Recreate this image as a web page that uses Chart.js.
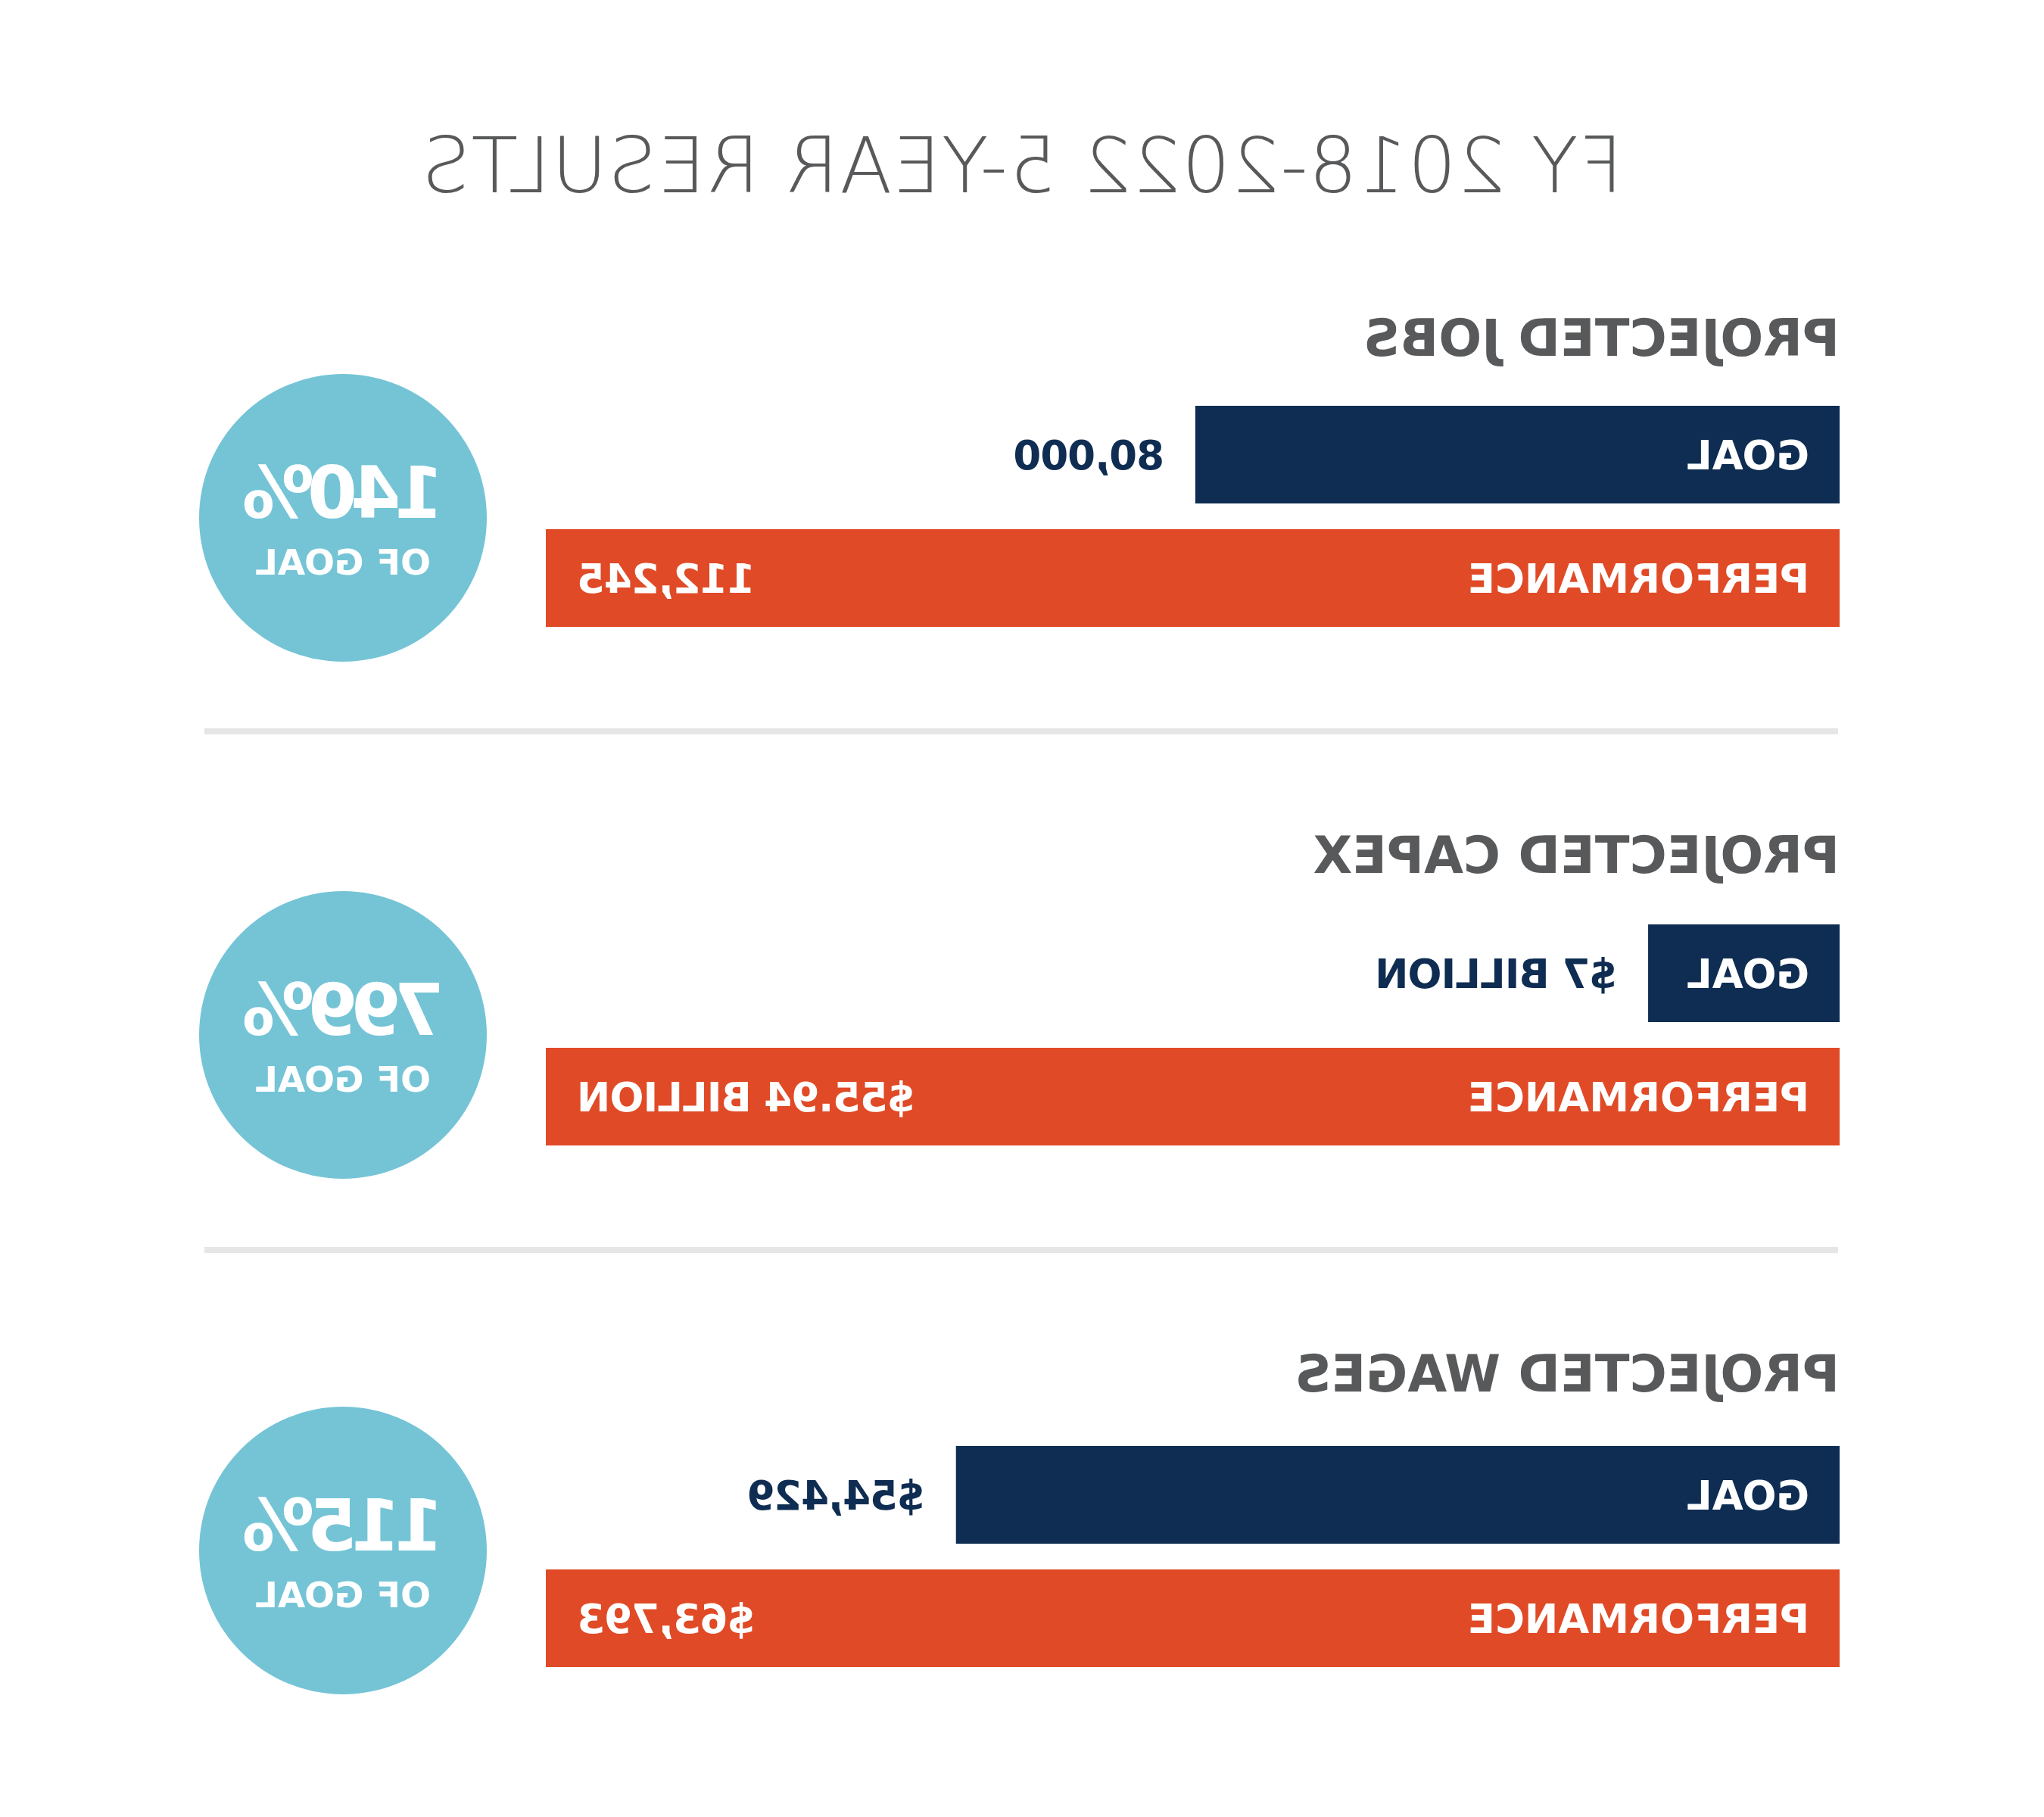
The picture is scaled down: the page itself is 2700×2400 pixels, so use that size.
<!DOCTYPE html>
<html>
<head>
<meta charset="utf-8">
<script src="https://cdn.jsdelivr.net/npm/chart.js@4.4.1/dist/chart.umd.min.js"></script>
<style>
  html, body { margin: 0; padding: 0; background: #ffffff; }
  #page { position: relative; width: 2700px; height: 2400px; overflow: hidden; background: #ffffff; transform: scaleX(-1); transform-origin: 1350px 0; }
  .title { position: absolute; left: 0; width: 2700px; text-align: center; font-family: "DejaVu Sans", sans-serif; font-weight: 200; font-size: 101px; letter-spacing: 1px; line-height: 1; color: #58595b; white-space: nowrap; }
  .head { position: absolute; left: 270px; font-family: "DejaVu Sans", sans-serif; font-weight: bold; font-size: 67px; line-height: 1; color: #58595b; white-space: nowrap; }
  .sep { position: absolute; left: 272px; width: 2158px; height: 8px; background: #e6e6e6; }
  .circle { position: absolute; width: 380px; height: 380px; border-radius: 50%; background: #74c4d6; }
  .pct { position: absolute; left: 0; width: 380px; box-sizing: border-box; padding-right: 9px; text-align: center; font-family: "DejaVu Sans", sans-serif; font-weight: bold; font-size: 95px; letter-spacing: -9px; line-height: 1; color: #ffffff; white-space: nowrap; }
  .of { position: absolute; left: 0; width: 380px; text-align: center; font-family: "DejaVu Sans", sans-serif; font-weight: bold; font-size: 47px; line-height: 1; color: #ffffff; white-space: nowrap; }
  canvas.bars { position: absolute; left: 270px; }
</style>
</head>
<body>
<div id="page">
  <div class="title" style="top:169px">FY 2018-2022 5-YEAR RESULTS</div>
</div>
<script>
// ---- data ----
const sectionTitles = ['PROJECTED JOBS', 'PROJECTED CAPEX', 'PROJECTED WAGES'];
const barCategories = ['GOAL', 'PERFORMANCE'];
const goalText = ['80,000', '$7 BILLION', '$54,429'];
const performanceText = ['112,245', '$55.94 BILLION', '$63,793'];
// bar lengths as drawn, in % of the full performance bar
const goalBarLength = [49.8, 14.8, 68.3];
const performanceBarLength = [100, 100, 100];
const percentOfGoal = ['140%', '799%', '115%'];
const percentCaption = ['OF GOAL', 'OF GOAL', 'OF GOAL'];

// ---- styles / layout ----
const NAVY = '#0f2d52';
const ORANGE = '#e04a26';
const BAR_TOPS = [519, 1204, 1893];
const HEAD_TOPS = [414, 1097, 1782];
const SEP_TOPS = [962, 1647];
const CIRCLE_CENTERS = [684, 1367, 2048];
const FONT = '"DejaVu Sans", sans-serif';
const LABEL_SIZE = 53;
const CAP = 0.729;

const page = document.getElementById('page');

const barLabelPlugin = {
  id: 'barLabels',
  afterDatasetsDraw(chart, args, opts) {
    const ctx = chart.ctx;
    const meta = chart.getDatasetMeta(0);
    ctx.save();
    ctx.font = 'bold ' + LABEL_SIZE + 'px ' + FONT;
    ctx.textBaseline = 'alphabetic';
    meta.data.forEach((el, i) => {
      const yb = el.y + LABEL_SIZE * CAP / 2;
      const left = Math.min(el.base, el.x);
      const right = Math.max(el.base, el.x);
      ctx.letterSpacing = '0px';
      ctx.fillStyle = '#ffffff';
      ctx.textAlign = 'left';
      ctx.fillText(chart.data.labels[i], left + 40, yb);
      const txt = opts.values[i];
      ctx.letterSpacing = '-1px';
      if (i === 0) {
        ctx.fillStyle = NAVY;
        ctx.textAlign = 'left';
        ctx.fillText(txt, right + 41, yb);
      } else {
        ctx.fillStyle = '#ffffff';
        ctx.textAlign = 'right';
        ctx.fillText(txt, right - 42, yb);
      }
    });
    ctx.restore();
  }
};

function build() {
  sectionTitles.forEach((name, s) => {
    const h = document.createElement('div');
    h.className = 'head';
    h.style.top = HEAD_TOPS[s] + 'px';
    h.textContent = name;
    page.appendChild(h);

    if (s < SEP_TOPS.length) {
      const sep = document.createElement('div');
      sep.className = 'sep';
      sep.style.top = SEP_TOPS[s] + 'px';
      page.appendChild(sep);
    }

    const c = document.createElement('div');
    c.className = 'circle';
    c.style.left = (2247 - 190) + 'px';
    c.style.top = (CIRCLE_CENTERS[s] - 190) + 'px';
    const p = document.createElement('div');
    p.className = 'pct';
    p.style.top = '110px';
    p.textContent = percentOfGoal[s];
    const o = document.createElement('div');
    o.className = 'of';
    o.style.top = (231 - 6) + 'px';
    o.textContent = percentCaption[s];
    c.appendChild(p);
    c.appendChild(o);
    page.appendChild(c);

    const cv = document.createElement('canvas');
    cv.className = 'bars';
    cv.width = 1709;
    cv.height = 326;
    cv.style.top = BAR_TOPS[s] + 'px';
    cv.style.width = '1709px';
    cv.style.height = '326px';
    page.appendChild(cv);

    new Chart(cv, {
      type: 'bar',
      data: {
        labels: barCategories,
        datasets: [{
          data: [goalBarLength[s], performanceBarLength[s]],
          backgroundColor: [NAVY, ORANGE],
          borderWidth: 0,
          barPercentage: 129 / 163,
          categoryPercentage: 1
        }]
      },
      options: {
        indexAxis: 'y',
        responsive: false,
        animation: false,
        devicePixelRatio: 1,
        layout: { padding: 0 },
        plugins: {
          legend: { display: false },
          tooltip: { enabled: false },
          barLabels: { values: [goalText[s], performanceText[s]] }
        },
        scales: {
          x: { type: 'linear', min: 0, max: 100, display: false },
          y: { display: false }
        }
      },
      plugins: [barLabelPlugin]
    });
  });
}

if (document.fonts && document.fonts.load) {
  Promise.all([
    document.fonts.load('bold 53px "DejaVu Sans"'),
    document.fonts.load('200 101px "DejaVu Sans"')
  ]).then(build, build);
} else {
  build();
}
</script>
</body>
</html>
